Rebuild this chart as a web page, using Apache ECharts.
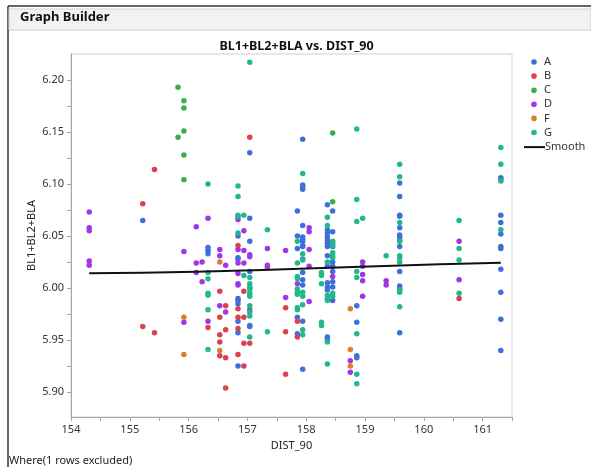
<!DOCTYPE html>
<html>
<head>
<meta charset="utf-8">
<script src="https://cdn.jsdelivr.net/npm/echarts@6/dist/echarts.min.js"></script>
<style>
  html, body { margin: 0; padding: 0; background: #fff; }
  #chart { width: 591px; height: 467px; }
</style>
</head>
<body>
<div id="chart"></div>
<script>
// Group labels and point colours
const groups = ['A', 'B', 'C', 'D', 'F', 'G'];
const groupColors = ['#3f6fdc', '#d9424f', '#3cae48', '#a236e6', '#d8812d', '#21b98c'];

// [DIST_90, BL1+BL2+BLA] per group
const pointsA = [
  [155.22,6.065],
  [156.33,6.039],[156.33,6.036],[156.33,6.033],
  [156.84,6.050],[156.84,6.029],[156.84,6.028],[156.84,5.990],[156.84,5.988],[156.84,5.985],[156.84,5.968],[156.84,5.957],[156.84,5.925],
  [157.04,6.130],[157.04,6.067],[157.04,6.045],[157.04,6.016],[157.04,5.964],[157.04,5.963],
  [157.85,6.074],[157.85,6.050],[157.85,6.038],[157.85,5.972],[157.85,5.956],
  [157.94,6.143],[157.94,6.099],[157.94,6.097],[157.94,6.095],[157.94,6.060],[157.94,6.049],[157.94,6.047],[157.94,6.045],[157.94,6.041],[157.94,6.040],[157.94,6.028],[157.94,6.015],[157.94,6.008],[157.94,6.003],[157.94,5.968],[157.94,5.922],
  [158.36,6.080],[158.36,6.056],[158.36,6.053],[158.36,6.049],[158.36,6.046],[158.36,6.043],[158.36,6.040],[158.36,6.031],[158.36,6.021],[158.36,6.005],[158.36,6.001],[158.36,5.998],[158.36,5.953],[158.36,5.951],
  [158.45,6.074],[158.45,6.054],[158.45,6.040],[158.45,6.025],[158.45,6.021],[158.45,6.016],[158.45,6.006],[158.45,6.001],[158.45,5.988],
  [158.86,5.983],[158.86,5.967],[158.86,5.935],[158.86,5.933],
  [159.59,6.101],[159.59,6.088],[159.59,6.070],[159.59,6.069],[159.59,6.058],[159.59,6.051],[159.59,6.049],[159.59,6.046],[159.59,6.040],[159.59,6.016],[159.59,6.002],[159.59,5.999],[159.59,5.957],
  [161.31,6.106],[161.31,6.104],[161.31,6.070],[161.31,6.063],[161.31,6.052],[161.31,6.040],[161.31,6.038],[161.31,6.018],[161.31,5.996],[161.31,5.970],[161.31,5.940]
];
const pointsB = [
  [155.42,6.114],[155.22,6.081],[155.22,5.963],[155.42,5.957],
  [156.33,5.962],
  [156.53,5.997],[156.53,5.972],[156.53,5.955],[156.53,5.948],[156.53,5.935],
  [156.63,5.983],[156.63,5.960],[156.63,5.933],[156.63,5.904],
  [156.84,6.041],[156.84,5.980],[156.84,5.972],[156.84,5.961],[156.84,5.936],
  [156.94,5.997],[156.94,5.972],[156.94,5.947],[156.94,5.925],
  [157.04,6.145],[157.04,5.947],
  [157.65,5.981],[157.65,5.958],[157.65,5.917],
  [157.85,5.968],[157.85,5.953],
  [160.60,5.990]
];
const pointsC = [
  [155.82,6.193],[155.92,6.180],[155.92,6.173],[155.92,6.151],[155.82,6.145],[155.92,6.128],[155.92,6.104],
  [158.45,6.149],[158.45,6.083]
];
const pointsD = [
  [154.31,6.073],[154.31,6.058],[154.31,6.055],[154.31,6.026],[154.31,6.022],
  [155.92,6.035],[155.92,5.967],
  [156.13,6.059],[156.13,6.024],[156.13,6.015],
  [156.23,6.025],[156.23,6.006],
  [156.33,6.067],[156.33,5.968],
  [156.53,6.037],[156.53,6.031],[156.53,5.983],
  [156.63,6.022],[156.63,5.977],
  [156.84,6.066],[156.84,6.037],[156.84,6.024],[156.84,6.014],[156.84,6.004],[156.84,6.003],
  [156.94,6.055],[156.94,6.036],[156.94,6.024],
  [157.04,6.032],[157.04,6.030],[157.04,6.000],[157.04,5.979],
  [157.34,6.038],[157.34,6.022],[157.34,6.020],
  [157.65,6.036],[157.65,5.991],
  [157.85,6.004],
  [158.05,6.058],[158.05,6.054],[158.05,6.037],[158.05,6.021],[158.05,5.987],
  [158.45,6.011],
  [158.75,5.930],[158.75,5.919],
  [158.96,6.025],[158.96,6.021],[158.96,6.013],[158.96,6.007],[158.96,5.992],
  [159.36,6.007],[159.36,6.003],
  [160.60,6.045],[160.60,6.008]
];
const pointsF = [
  [155.92,5.972],[155.92,5.936],
  [156.53,6.025],[156.53,5.940],
  [158.75,5.980],[158.75,5.941],[158.75,5.925]
];
const pointsG = [
  [156.33,6.100],[156.33,6.015],[156.33,6.009],[156.33,5.995],[156.33,5.993],[156.33,5.979],[156.33,5.941],
  [156.84,6.098],[156.84,6.088],[156.84,6.070],[156.84,6.069],[156.84,6.053],
  [156.94,6.070],[156.94,6.012],
  [157.04,6.217],[157.04,6.010],[157.04,6.004],[157.04,6.001],[157.04,5.999],[157.04,5.995],[157.04,5.992],[157.04,5.983],[157.04,5.977],[157.04,5.973],[157.04,5.953],
  [157.34,6.056],[157.34,5.958],
  [157.85,6.045],[157.85,6.024],[157.85,6.011],[157.85,6.009],[157.85,5.999],[157.85,5.996],[157.85,5.994],[157.85,5.981],[157.85,5.979],
  [157.94,6.110],[157.94,6.033],[157.94,6.027],[157.94,5.996],[157.94,5.992],[157.94,5.984],[157.94,5.960],[157.94,5.955],
  [158.26,6.015],[158.26,6.012],[158.26,6.004],[158.26,5.967],[158.26,5.964],
  [158.36,6.068],[158.36,6.060],[158.36,6.025],[158.36,5.993],[158.36,5.990],[158.36,5.988],[158.36,5.948],[158.36,5.927],
  [158.45,6.045],[158.45,6.043],[158.45,6.041],[158.45,6.034],[158.45,6.031],[158.45,6.029],[158.45,5.995],[158.45,5.992],
  [158.86,6.153],[158.86,6.085],[158.86,6.064],[158.86,6.016],[158.86,6.010],[158.86,5.956],[158.86,5.917],[158.86,5.908],
  [158.96,6.067],
  [159.36,6.031],
  [159.59,6.119],[159.59,6.107],[159.59,6.063],[159.59,6.045],[159.59,6.031],[159.59,6.029],[159.59,6.025],[159.59,5.998],[159.59,5.996],[159.59,5.982],
  [160.60,6.065],[160.60,6.038],[160.60,6.027],[160.60,5.995],
  [161.31,6.135],[161.31,6.119],[161.31,6.103],[161.31,6.056]
];
const groupPoints = [pointsA, pointsB, pointsC, pointsD, pointsF, pointsG];

// Smoothing curve through all groups
const smoothCurve = [[154.31,6.0141],[156.12,6.0157],[158.40,6.0195],[160.27,6.0228],[161.31,6.0243]];

// Axis ticks and labels
const xLabelValues = [154, 155, 156, 157, 158, 159, 160, 161];
const xTickValues = [154,154.5,155,155.5,156,156.5,157,157.5,158,158.5,159,159.5,160,160.5,161,161.5];
const yLabelValues = [5.90, 5.95, 6.00, 6.05, 6.10, 6.15, 6.20];
const yTickValues = [5.90,5.925,5.95,5.975,6.00,6.025,6.05,6.075,6.10,6.125,6.15,6.175,6.20];

const FONT = '"Noto Sans", "Open Sans", sans-serif';

const chart = echarts.init(document.getElementById('chart'), null, { renderer: 'canvas' });

const scatterSeries = groups.map((g, i) => ({
  name: g,
  type: 'scatter',
  data: groupPoints[i],
  symbol: 'circle',
  symbolSize: 5.5,
  itemStyle: { color: groupColors[i], opacity: 1 },
  emphasis: { disabled: true },
  z: 3
}));

// Legend panel on the right: one dot per group, then the smoother line
const legendX = 534, legendY = 62, legendStep = 14.1;
const legendGraphics = [];
groups.forEach((g, i) => {
  const cy = legendY + legendStep * i;
  legendGraphics.push({ type: 'circle', shape: { cx: legendX, cy: cy, r: 2.8 }, style: { fill: groupColors[i] }, silent: true });
  legendGraphics.push({ type: 'text', x: 544, y: cy, style: { text: g, font: '11px ' + FONT, fill: '#333', textVerticalAlign: 'middle' }, silent: true });
});
const smoothY = legendY + legendStep * 6 + 0.5;
legendGraphics.push({ type: 'line', shape: { x1: 524, y1: smoothY, x2: 545, y2: smoothY }, style: { stroke: '#111', lineWidth: 2 }, silent: true });
legendGraphics.push({ type: 'text', x: 545, y: smoothY, style: { text: 'Smooth', font: '11px ' + FONT, fill: '#333', textVerticalAlign: 'middle' }, silent: true });

chart.setOption({
  animation: false,
  backgroundColor: '#fff',
  textStyle: { fontFamily: FONT },
  graphic: [
    // window frame
    { type: 'line', shape: { x1: 8, y1: 6, x2: 591, y2: 6 }, style: { stroke: '#333', lineWidth: 1.5 }, silent: true },
    { type: 'line', shape: { x1: 8, y1: 6, x2: 8, y2: 467 }, style: { stroke: '#333', lineWidth: 1.5 }, silent: true },
    // header bar
    { type: 'rect', shape: { x: 9, y: 9, width: 582, height: 21 }, style: { fill: '#f2f2f2', stroke: '#d0d0d0', lineWidth: 1 }, silent: true },
    { type: 'text', left: 20, top: 11, style: { text: 'Graph Builder', font: 'bold 13px ' + FONT, fill: '#111' }, silent: true },
    // footnote
    { type: 'text', left: 9, top: 455, style: { text: 'Where(1 rows excluded)', font: '11px ' + FONT, fill: '#222' }, silent: true },
    ...legendGraphics
  ],
  title: {
    text: 'BL1+BL2+BLA vs. DIST_90',
    left: 291.5,
    textAlign: 'center',
    top: 35,
    textStyle: { fontFamily: FONT, fontSize: 12.5, fontWeight: 'bold', color: '#111' }
  },
  grid: {
    left: 71, top: 54, right: 79, bottom: 50,
    show: true, borderColor: '#cfcfcf', borderWidth: 1, containLabel: false
  },
  xAxis: {
    type: 'value',
    min: 154, max: 161.5,
    name: 'DIST_90',
    nameLocation: 'middle',
    nameGap: 22,
    nameTextStyle: { fontFamily: FONT, fontSize: 11, color: '#222' },
    axisLine: { show: true, lineStyle: { color: '#a8a8a8' } },
    axisTick: { show: true, customValues: xTickValues, length: 4, lineStyle: { color: '#a8a8a8' } },
    axisLabel: { customValues: xLabelValues, fontFamily: FONT, fontSize: 11, color: '#333', margin: 7, formatter: v => String(v) },
    splitLine: { show: false }
  },
  yAxis: {
    type: 'value',
    min: 5.876, max: 6.225,
    name: 'BL1+BL2+BLA',
    nameLocation: 'middle',
    nameGap: 39,
    nameRotate: 90,
    nameMoveOverlap: false,
    nameTextStyle: { fontFamily: FONT, fontSize: 11, color: '#222', verticalAlign: 'middle' },
    axisLine: { show: true, lineStyle: { color: '#a8a8a8' } },
    axisTick: { show: true, customValues: yTickValues, length: 4, lineStyle: { color: '#a8a8a8' } },
    axisLabel: { customValues: yLabelValues, fontFamily: FONT, fontSize: 11, color: '#333', margin: 7, formatter: v => v.toFixed(2) },
    splitLine: { show: false }
  },
  series: [
    ...scatterSeries,
    {
      name: 'Smooth',
      type: 'line',
      data: smoothCurve,
      smooth: true,
      showSymbol: false,
      symbol: 'none',
      lineStyle: { color: '#111', width: 2 },
      itemStyle: { color: '#111' },
      emphasis: { disabled: true },
      z: 4
    }
  ]
});
</script>
</body>
</html>
